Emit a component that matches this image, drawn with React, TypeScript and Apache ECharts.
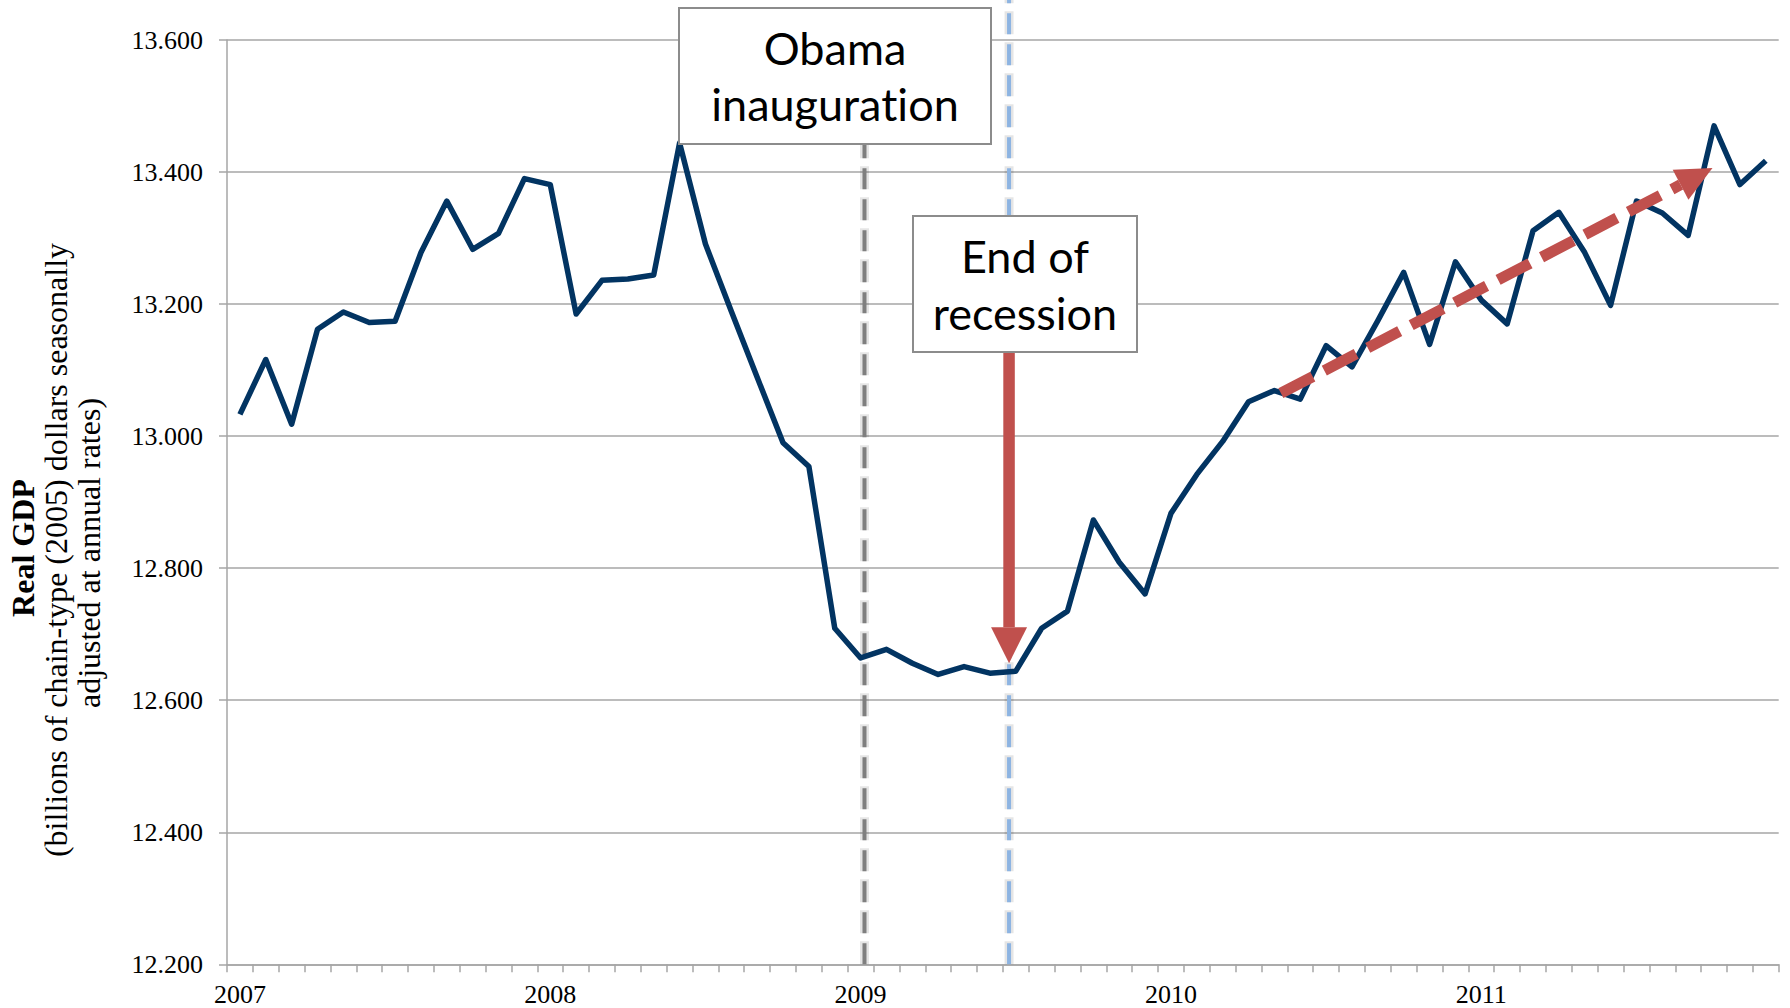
import React, { useEffect, useRef } from 'react';
import * as echarts from 'echarts';

// ---- Data ----
const years = ['2007', '2008', '2009', '2010', '2011'];
const months = ['01', '02', '03', '04', '05', '06', '07', '08', '09', '10', '11', '12'];
const categories = years.flatMap((y) => months.map((m) => `${y}-${m}`));

// Real GDP, billions of chained (2005) dollars, monthly
const gdp = [
  13033, 13116, 13018, 13162, 13188, 13172, 13174, 13278, 13356, 13283, 13307, 13390,
  13381, 13185, 13236, 13238, 13244, 13444, 13291, 13189, 13089, 12990, 12954, 12709,
  12664, 12677, 12656, 12639, 12651, 12641, 12644, 12709, 12735, 12873, 12809, 12761,
  12883, 12942, 12992, 13052, 13069, 13056, 13137, 13105, 13175, 13248, 13139, 13264,
  13206, 13170, 13311, 13339, 13278, 13198, 13356, 13338, 13304, 13470, 13381, 13417,
];

const yMin = 12200;
const yMax = 13600;
const yStep = 200;

// Events, in months since Jan 2007 (0 = start of Jan 2007)
const inaugurationMonth = 24.65;
const recessionEndMonth = 30.24;
const inaugurationLineTop = 13470;
const recessionLineTop = 13661;
// Annotation arrows: [xStart, yStart, xEnd, yEnd, dashed]
const recessionArrow = [recessionEndMonth, 13127, recessionEndMonth, 12656, 0];
const trendArrow = [40.75, 13065, 57.44, 13406, 1];

const inaugurationLabel = 'Obama\ninauguration';
const recessionLabel = 'End of\nrecession';
const titleBold = 'Real GDP';
const titleLine2 = '(billions of chain-type (2005) dollars seasonally';
const titleLine3 = 'adjusted at annual rates)';

const RED = '#C0504D';
const GRID = '#A6A6A6';

function eventLine(pos: number, top: number, color: string, glow: boolean) {
  return {
    type: 'line',
    xAxisIndex: 1,
    yAxisIndex: 0,
    data: [[pos, yMin], [pos, top]],
    symbol: 'none',
    clip: false,
    silent: true,
    z: 1,
    lineStyle: glow
      ? { color: 'rgba(0,0,0,0.10)', width: 9, type: [23, 8] }
      : { color, width: 4, type: [21, 10] },
  };
}

export default function App() {
  const ref = useRef<HTMLDivElement>(null);

  useEffect(() => {
    if (!ref.current) return;
    const chart = echarts.init(ref.current, null, { renderer: 'svg' });

    const serif = 'Liberation Serif, Times New Roman, serif';
    const sans = 'Lato, Open Sans, sans-serif';

    const option: any = {
      animation: false,
      backgroundColor: '#ffffff',
      grid: { left: 227, right: 11.3, top: 40, bottom: 43.7, containLabel: false },
      xAxis: [
        {
          type: 'category',
          data: categories,
          boundaryGap: true,
          axisLine: { show: true, lineStyle: { color: GRID, width: 1.5 } },
          axisTick: { show: true, interval: 0, length: 8, lineStyle: { color: GRID, width: 1.5 } },
          axisLabel: {
            interval: (i: number) => i % 12 === 0,
            formatter: (v: string) => v.slice(0, 4),
            fontFamily: serif,
            fontSize: 26,
            color: '#000',
            margin: 17,
          },
          splitLine: { show: false },
        },
        {
          type: 'value',
          min: 0,
          max: categories.length,
          show: false,
        },
      ],
      yAxis: {
        type: 'value',
        min: yMin,
        max: yMax,
        interval: yStep,
        axisLine: { show: true, lineStyle: { color: GRID, width: 1.5 } },
        axisTick: { show: true, length: 8, lineStyle: { color: GRID, width: 1.5 } },
        axisLabel: {
          formatter: (v: number) => (v / 1000).toFixed(3),
          fontFamily: serif,
          fontSize: 26,
          color: '#000',
          margin: 24,
        },
        splitLine: { show: true, lineStyle: { color: GRID, width: 1.5 } },
      },
      series: [
        eventLine(inaugurationMonth, inaugurationLineTop, '#7F7F7F', true),
        eventLine(inaugurationMonth, inaugurationLineTop, '#7F7F7F', false),
        eventLine(recessionEndMonth, recessionLineTop, '#8DB4E2', true),
        eventLine(recessionEndMonth, recessionLineTop, '#8DB4E2', false),
        {
          type: 'line',
          name: 'Real GDP',
          xAxisIndex: 0,
          yAxisIndex: 0,
          data: gdp,
          symbol: 'none',
          z: 3,
          lineStyle: { color: '#023462', width: 5.5, join: 'round' },
        },
        {
          type: 'custom',
          xAxisIndex: 1,
          yAxisIndex: 0,
          clip: false,
          silent: true,
          z: 5,
          data: [recessionArrow, trendArrow],
          encode: { x: [0, 2], y: [1, 3] },
          renderItem: (params: any, api: any) => {
            const a = api.coord([api.value(0), api.value(1)]);
            const b = api.coord([api.value(2), api.value(3)]);
            const dashed = api.value(4) === 1;
            const dx = b[0] - a[0];
            const dy = b[1] - a[1];
            const len = Math.hypot(dx, dy);
            const ux = dx / len;
            const uy = dy / len;
            const px = -uy;
            const py = ux;
            const headLen = 36;
            const headW = dashed ? 34 : 36;
            const bx = b[0] - ux * headLen;
            const by = b[1] - uy * headLen;
            return {
              type: 'group',
              children: [
                {
                  type: 'line',
                  shape: { x1: a[0], y1: a[1], x2: bx, y2: by },
                  style: {
                    stroke: RED,
                    lineWidth: dashed ? 11 : 11.5,
                    lineDash: dashed ? [36, 13] : null,
                    lineCap: 'butt',
                  },
                },
                {
                  type: 'polygon',
                  shape: {
                    points: [
                      [b[0], b[1]],
                      [bx + (px * headW) / 2, by + (py * headW) / 2],
                      [bx - (px * headW) / 2, by - (py * headW) / 2],
                    ],
                  },
                  style: { fill: RED },
                },
              ],
            };
          },
        },
      ],
      graphic: [
        {
          type: 'rect',
          z: 100,
          shape: { x: 679, y: 8, width: 312, height: 136 },
          style: { fill: '#ffffff', stroke: '#8C8C8C', lineWidth: 2 },
        },
        {
          type: 'text',
          z: 101,
          x: 835,
          y: 76,
          style: {
            text: inaugurationLabel,
            fontFamily: sans,
            fontSize: 45,
            lineHeight: 56,
            fill: '#000',
            align: 'center',
            verticalAlign: 'middle',
            textAlign: 'center',
            textVerticalAlign: 'middle',
          },
        },
        {
          type: 'rect',
          z: 100,
          shape: { x: 913, y: 216, width: 224, height: 136 },
          style: { fill: '#ffffff', stroke: '#8C8C8C', lineWidth: 2 },
        },
        {
          type: 'text',
          z: 101,
          x: 1025,
          y: 284,
          style: {
            text: recessionLabel,
            fontFamily: sans,
            fontSize: 45,
            lineHeight: 57,
            fill: '#000',
            align: 'center',
            verticalAlign: 'middle',
            textAlign: 'center',
            textVerticalAlign: 'middle',
          },
        },
        {
          type: 'text',
          z: 101,
          x: 23,
          y: 548,
          rotation: Math.PI / 2,
          style: {
            text: titleBold,
            fontFamily: serif,
            fontSize: 32,
            fontWeight: 'bold',
            fill: '#000',
            align: 'center',
            verticalAlign: 'middle',
            textAlign: 'center',
            textVerticalAlign: 'middle',
          },
        },
        {
          type: 'text',
          z: 101,
          x: 56,
          y: 550,
          rotation: Math.PI / 2,
          style: {
            text: titleLine2,
            fontFamily: serif,
            fontSize: 32,
            fill: '#000',
            align: 'center',
            verticalAlign: 'middle',
            textAlign: 'center',
            textVerticalAlign: 'middle',
          },
        },
        {
          type: 'text',
          z: 101,
          x: 89,
          y: 553,
          rotation: Math.PI / 2,
          style: {
            text: titleLine3,
            fontFamily: serif,
            fontSize: 32,
            fill: '#000',
            align: 'center',
            verticalAlign: 'middle',
            textAlign: 'center',
            textVerticalAlign: 'middle',
          },
        },
      ],
    };

    chart.setOption(option);
    return () => chart.dispose();
  }, []);

  return (
    <div
      ref={ref}
      style={{
        position: 'fixed',
        left: 0,
        top: 0,
        width: 1790,
        height: 1008,
        background: '#fff',
        fontVariantLigatures: 'none',
      }}
    />
  );
}
